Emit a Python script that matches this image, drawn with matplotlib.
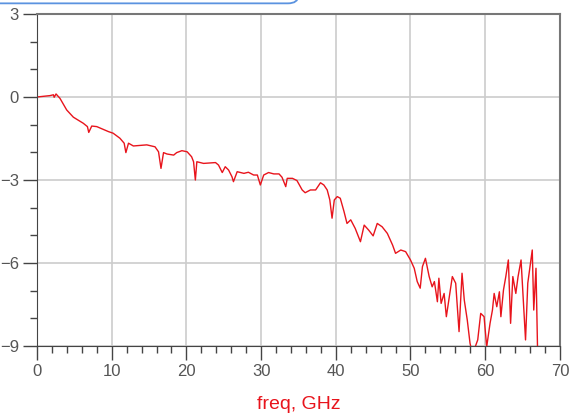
import matplotlib
matplotlib.use("Agg")
import matplotlib.pyplot as plt
from matplotlib.patches import FancyBboxPatch
from matplotlib.ticker import MultipleLocator

# values (freq in GHz, response in dB)
freq = [0, 1.74, 2.2, 2.3, 2.55, 3.08, 3.98, 4.87, 6.2, 6.75, 6.93, 7.33, 8.0,
        9.56, 10.2, 11.1, 11.67, 11.9, 12.25, 12.9, 14.7, 15.8, 16.27, 16.6,
        16.94, 17.4, 18.3, 18.7, 19.4, 20.1, 20.7, 20.96, 21.2, 21.4, 22.3,
        23.9, 24.3, 24.8, 25.2, 25.65, 26.1, 26.3, 26.8, 27.7, 28.3, 29.0,
        29.5, 29.9, 30.35, 31.0, 31.7, 32.4, 32.8, 33.3, 33.5, 34.2, 34.8,
        35.5, 35.9, 36.6, 37.3, 37.95, 38.4, 38.85, 39.2, 39.5, 39.8, 40.2,
        40.6, 41.1, 41.5, 42.0, 42.6, 43.3, 43.8, 44.4, 45.0, 45.55, 46.2,
        46.9, 47.6, 48.0, 48.7, 49.35, 50.0, 50.5, 50.9, 51.3, 51.6, 52.0,
        52.5, 52.9, 53.2, 53.6, 53.8, 54.1, 54.5, 54.8, 55.2, 55.6, 56.05,
        56.5, 56.9, 57.2, 57.6, 57.97, 58.3, 59.0, 59.4, 59.85, 60.2, 60.65,
        60.97, 61.2, 61.55, 61.9, 62.1, 62.45, 62.76, 63.1, 63.4, 63.7, 64.1,
        64.4, 64.8, 65.1, 65.4, 65.7, 66.0, 66.3, 66.5, 66.8, 67.0]
s21 = [0.0, 0.05, 0.08, -0.01, 0.11, -0.05, -0.47, -0.73, -0.95, -1.07, -1.28,
       -1.05, -1.07, -1.25, -1.31, -1.49, -1.67, -2.01, -1.67, -1.77, -1.73,
       -1.8, -1.98, -2.58, -2.01, -2.06, -2.1, -2.01, -1.94, -1.98, -2.16,
       -2.34, -3.0, -2.34, -2.4, -2.37, -2.46, -2.73, -2.52, -2.64, -2.88,
       -3.06, -2.7, -2.76, -2.72, -2.82, -2.82, -3.18, -2.82, -2.73, -2.78,
       -2.78, -2.9, -3.24, -2.94, -2.94, -3.02, -3.36, -3.46, -3.36, -3.36,
       -3.1, -3.18, -3.36, -3.72, -4.38, -3.72, -3.6, -3.66, -4.14, -4.57,
       -4.44, -4.75, -5.23, -4.63, -4.81, -5.02, -4.57, -4.69, -4.93, -5.35,
       -5.65, -5.53, -5.59, -5.89, -6.19, -6.67, -6.91, -6.13, -5.83, -6.49,
       -6.86, -6.67, -7.4, -6.55, -7.46, -7.1, -7.94, -7.22, -6.49, -6.73,
       -8.48, -6.37, -7.34, -8.06, -8.9, -9.3, -8.78, -7.82, -7.94, -9.03,
       -8.18, -7.7, -7.1, -7.58, -7.04, -7.94, -6.97, -6.49, -5.89, -8.18,
       -6.49, -7.1, -6.49, -5.89, -7.34, -8.78, -6.73, -6.13, -5.53, -7.7,
       -6.19, -9.0]

xticks = [0, 10, 20, 30, 40, 50, 60, 70]
yticks = [3, 0, -3, -6, -9]

plt.rcParams['font.family'] = ['Liberation Sans', 'DejaVu Sans']

fig = plt.figure(figsize=(5.69, 4.19), dpi=100)
ax = fig.add_axes([0.065, 0.1742, 0.919, 0.7924])

# blue frame peeking in from the top
box = FancyBboxPatch((-0.02, 0.992), 0.544, 0.2, boxstyle="round,pad=0,rounding_size=0.018",
                     transform=fig.transFigure, fill=False, ec="#5b93e0", lw=1.3,
                     clip_on=False)
fig.patches.append(box)

ax.plot(freq, s21, color="#e8141c", lw=1.0)

ax.set_xlim(0, 70)
ax.set_ylim(-9, 3)
ax.set_xticks(xticks)
ax.set_yticks(yticks)
ax.xaxis.set_minor_locator(MultipleLocator(2))
ax.yaxis.set_minor_locator(MultipleLocator(1))
ax.grid(True, which="major", color="#cccccc", lw=1.2)
ax.tick_params(which="major", length=10, width=1, color="#444444",
               labelsize=12, labelcolor="#555555", pad=3)
ax.tick_params(which="minor", length=5, width=1, color="#444444")
for side in ["left", "bottom"]:
    ax.spines[side].set_color("#444444")
for side in ["top", "right"]:
    ax.spines[side].set_color("#777777")
    ax.spines[side].set_linewidth(1.5)

ax.set_xlabel("freq, GHz", color="#e8141c", fontsize=14, labelpad=12)

fig.savefig("out.png", dpi=100)
